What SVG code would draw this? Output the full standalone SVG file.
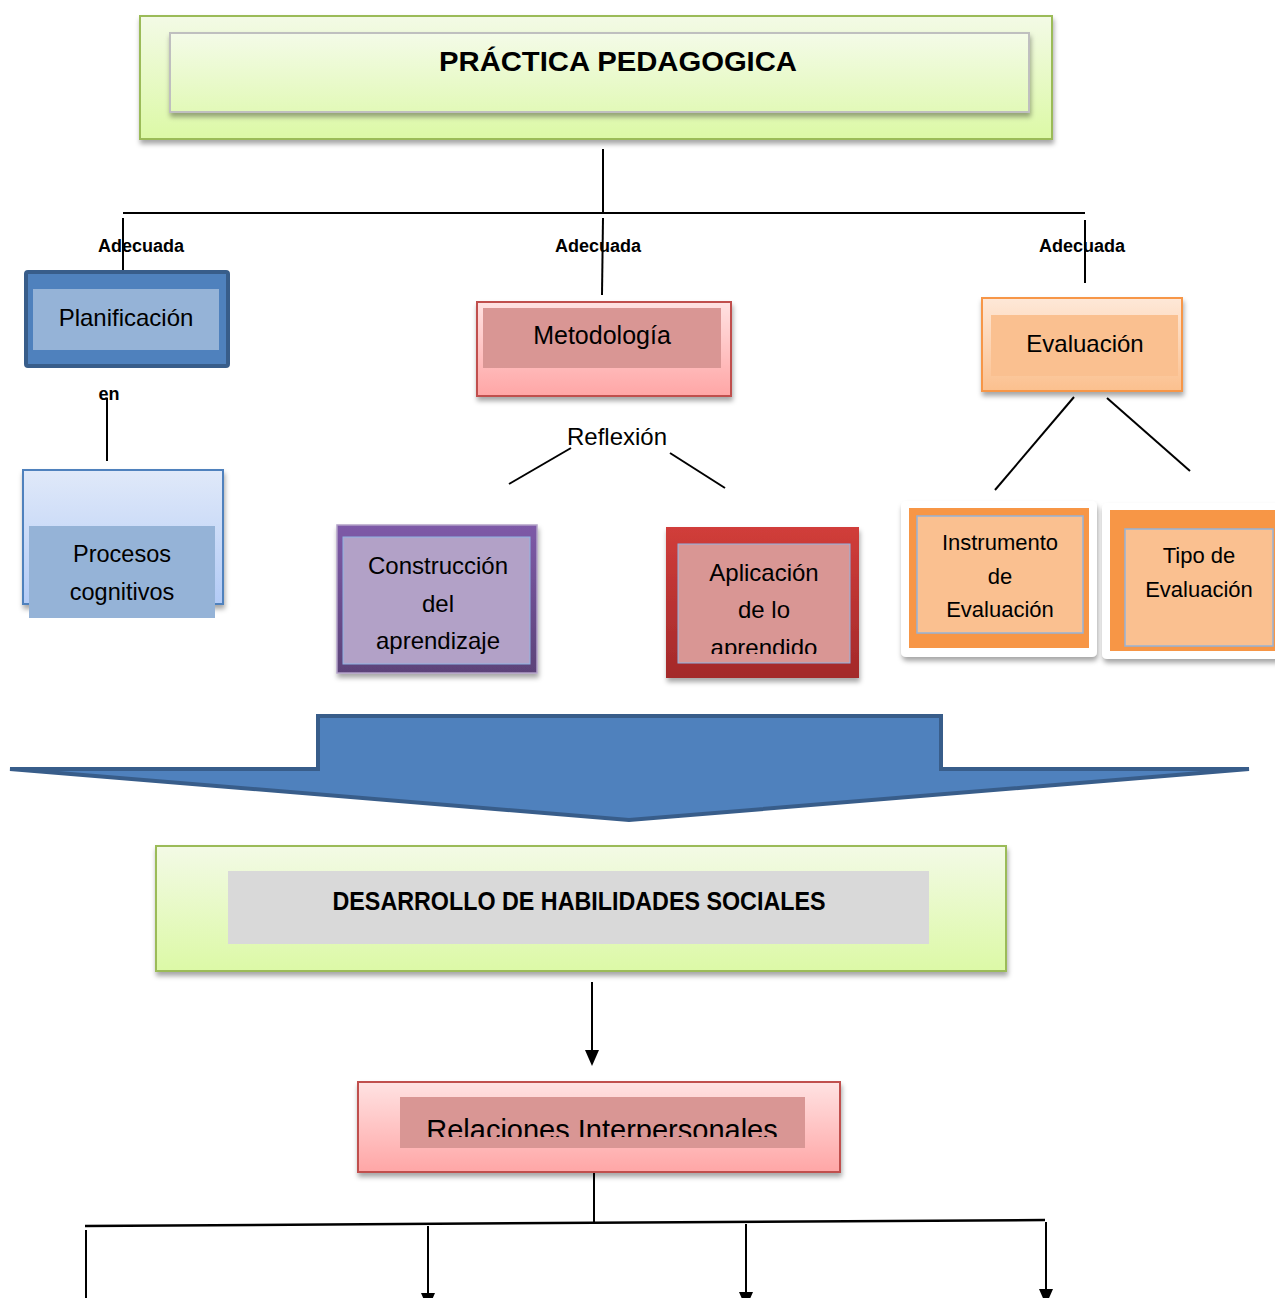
<svg xmlns="http://www.w3.org/2000/svg" width="1275" height="1298" viewBox="0 0 1275 1298">
<defs>
<linearGradient id="gGreen" x1="0" y1="0" x2="0" y2="1"><stop offset="0" stop-color="#f3fae6"/><stop offset="1" stop-color="#dcf9a6"/></linearGradient>
<linearGradient id="gGreen2" x1="0" y1="0" x2="0" y2="1"><stop offset="0" stop-color="#f4fbe8"/><stop offset="1" stop-color="#e2f9b8"/></linearGradient>
<linearGradient id="gPink" x1="0" y1="0" x2="0" y2="1"><stop offset="0" stop-color="#ffe2e2"/><stop offset="1" stop-color="#ffa6a6"/></linearGradient>
<linearGradient id="gBlueL" x1="0" y1="0" x2="0" y2="1"><stop offset="0" stop-color="#e0e9f9"/><stop offset="1" stop-color="#b3cbf6"/></linearGradient>
<linearGradient id="gOrange" x1="0" y1="0" x2="0" y2="1"><stop offset="0" stop-color="#fee8d8"/><stop offset="1" stop-color="#fbc08e"/></linearGradient>
<linearGradient id="gPurple" x1="0" y1="0" x2="0" y2="1"><stop offset="0" stop-color="#7e5aa8"/><stop offset="1" stop-color="#5c4379"/></linearGradient>
<linearGradient id="gRed" x1="0" y1="0" x2="0" y2="1"><stop offset="0" stop-color="#d13d3a"/><stop offset="1" stop-color="#a3292a"/></linearGradient>
<linearGradient id="gEdge" x1="0" y1="0" x2="1" y2="0"><stop offset="0" stop-color="#fbe0e0"/><stop offset="1" stop-color="#d23a3a"/></linearGradient>
<filter id="sh" x="-10%" y="-10%" width="120%" height="130%"><feDropShadow dx="1" dy="4" stdDeviation="2.5" flood-color="#000" flood-opacity="0.35"/></filter>
<clipPath id="clipApl"><rect x="678" y="544" width="172" height="110"/></clipPath>
<clipPath id="clipRel"><rect x="400" y="1097" width="405" height="40"/></clipPath>
</defs>
<style>
.t{font-family:"Liberation Sans",Arial,sans-serif;fill:#000;text-anchor:middle}
.b{font-weight:bold}
.ln{stroke:#000;stroke-width:2;fill:none}
</style>
<rect width="1275" height="1298" fill="#fff"/>

<g id="connectors">
<line class="ln" x1="603" y1="149" x2="603" y2="213"/>
<line class="ln" x1="123" y1="213" x2="1085" y2="213"/>
<line class="ln" x1="123" y1="218" x2="123" y2="282"/>
<line class="ln" x1="603" y1="218" x2="602" y2="295"/>
<line class="ln" x1="1085" y1="220" x2="1085" y2="283"/>
<line class="ln" x1="107" y1="398" x2="107" y2="461"/>
<line class="ln" x1="509" y1="484" x2="571" y2="448"/>
<line class="ln" x1="670" y1="453" x2="725" y2="488"/>
<line class="ln" x1="1074" y1="397" x2="995" y2="490"/>
<line class="ln" x1="1107" y1="398" x2="1190" y2="471"/>
<line class="ln" x1="592" y1="982" x2="592" y2="1050"/>
<path d="M585,1050 L599,1050 L592,1066 Z" fill="#000"/>
<line class="ln" x1="594" y1="1172" x2="594" y2="1222"/>
<line x1="85" y1="1226" x2="1045" y2="1220" stroke="#000" stroke-width="2.5"/>
<line class="ln" x1="86" y1="1230" x2="86" y2="1298"/>
<line class="ln" x1="428" y1="1226" x2="428" y2="1295"/>
<path d="M421,1293 L435,1293 L428,1309 Z" fill="#000"/>
<line class="ln" x1="746" y1="1224" x2="746" y2="1295"/>
<path d="M739,1292 L753,1292 L746,1308 Z" fill="#000"/>
<line class="ln" x1="1046" y1="1222" x2="1046" y2="1293"/>
<path d="M1039,1289 L1053,1289 L1046,1305 Z" fill="#000"/>
<line x1="672" y1="1297.5" x2="1275" y2="1297.5" stroke="url(#gEdge)" stroke-width="1.5"/>
</g>

<g id="labels">
<text class="t b" x="141" y="252" font-size="18">Adecuada</text>
<text class="t b" x="598" y="252" font-size="18">Adecuada</text>
<text class="t b" x="1082" y="252" font-size="18">Adecuada</text>
<text class="t b" x="109" y="400" font-size="18">en</text>
<text class="t" x="617" y="445" font-size="24">Reflexión</text>
</g>

<g id="practica">
<rect x="140" y="16" width="912" height="123" fill="url(#gGreen)" stroke="#9bbb59" stroke-width="2" filter="url(#sh)"/>
<rect x="170" y="33" width="859" height="79" fill="url(#gGreen2)" stroke="#bfbfbf" stroke-width="2" filter="url(#sh)"/>
<text class="t b" x="618" y="71" font-size="28" textLength="358" lengthAdjust="spacingAndGlyphs">PRÁCTICA PEDAGOGICA</text>
</g>

<g id="planificacion">
<rect x="26" y="272" width="202" height="94" rx="2" fill="#4f81bd" stroke="#385d8a" stroke-width="4"/>
<rect x="33" y="289" width="186" height="61" fill="#95b3d7"/>
<text class="t" x="126" y="326" font-size="24">Planificación</text>
</g>

<g id="procesos">
<rect x="23" y="470" width="200" height="134" fill="url(#gBlueL)" stroke="#4f81bd" stroke-width="2" filter="url(#sh)"/>
<rect x="29" y="526" width="186" height="92" fill="#95b3d7"/>
<text class="t" x="122" y="562" font-size="23.5">Procesos</text>
<text class="t" x="122" y="600" font-size="23.5">cognitivos</text>
</g>

<g id="metodologia">
<rect x="477" y="302" width="254" height="94" fill="url(#gPink)" stroke="#c0504d" stroke-width="2" filter="url(#sh)"/>
<rect x="483" y="308" width="238" height="60" fill="#d99694"/>
<text class="t" x="602" y="344" font-size="25">Metodología</text>
</g>

<g id="construccion">
<rect x="337" y="525" width="200" height="148" fill="url(#gPurple)" stroke="#b2a1c7" stroke-width="1.5" filter="url(#sh)"/>
<rect x="343" y="537" width="187" height="127" fill="#b2a1c7" stroke="#8eb4e3" stroke-width="1"/>
<text class="t" x="438" y="574" font-size="24">Construcción</text>
<text class="t" x="438" y="612" font-size="24">del</text>
<text class="t" x="438" y="649" font-size="24">aprendizaje</text>
</g>

<g id="aplicacion">
<rect x="666" y="527" width="193" height="151" fill="url(#gRed)" filter="url(#sh)"/>
<rect x="678" y="544" width="172" height="119" fill="#d99694" stroke="#8eb4e3" stroke-width="1"/>
<g clip-path="url(#clipApl)">
<text class="t" x="764" y="581" font-size="24">Aplicación</text>
<text class="t" x="764" y="618" font-size="24">de lo</text>
<text class="t" x="764" y="656" font-size="24">aprendido</text>
</g>
</g>

<g id="evaluacion">
<rect x="982" y="298" width="200" height="93" fill="url(#gOrange)" stroke="#f79646" stroke-width="2" filter="url(#sh)"/>
<rect x="991" y="315" width="187" height="61" fill="#fac090"/>
<text class="t" x="1085" y="352" font-size="24">Evaluación</text>
</g>

<g id="instrumento">
<rect x="901" y="501" width="196" height="156" rx="5" fill="#fff" filter="url(#sh)"/>
<rect x="909" y="508" width="180" height="140" fill="#f79646"/>
<rect x="917" y="516" width="166" height="117" fill="#fac090" stroke="#95b3d7" stroke-width="1.5"/>
<text class="t" x="1000" y="550" font-size="22">Instrumento</text>
<text class="t" x="1000" y="584" font-size="22">de</text>
<text class="t" x="1000" y="617" font-size="22">Evaluación</text>
</g>

<g id="tipo">
<rect x="1102" y="503" width="185" height="156" rx="5" fill="#fff" filter="url(#sh)"/>
<rect x="1110" y="510" width="170" height="141" fill="#f79646"/>
<rect x="1125" y="529" width="148" height="117" fill="#fac090" stroke="#95b3d7" stroke-width="1.5"/>
<text class="t" x="1199" y="563" font-size="22">Tipo de</text>
<text class="t" x="1199" y="597" font-size="22">Evaluación</text>
</g>

<g id="flecha">
<polygon points="10,769 318,769 318,716 941,716 941,769 1249,769 629,820" fill="#4f81bd" stroke="#385d8a" stroke-width="4" stroke-linejoin="miter"/>
</g>

<g id="desarrollo">
<rect x="156" y="846" width="850" height="125" fill="url(#gGreen)" stroke="#9bbb59" stroke-width="2" filter="url(#sh)"/>
<rect x="228" y="871" width="701" height="73" fill="#d9d9d9"/>
<text class="t b" x="579" y="910" font-size="25" textLength="493" lengthAdjust="spacingAndGlyphs">DESARROLLO DE HABILIDADES SOCIALES</text>
</g>

<g id="relaciones">
<rect x="358" y="1082" width="482" height="90" fill="url(#gPink)" stroke="#c0504d" stroke-width="2" filter="url(#sh)"/>
<rect x="400" y="1097" width="405" height="51" fill="#d99694"/>
<g clip-path="url(#clipRel)">
<text class="t" x="602" y="1140" font-size="29">Relaciones Interpersonales</text>
</g>
</g>
</svg>
